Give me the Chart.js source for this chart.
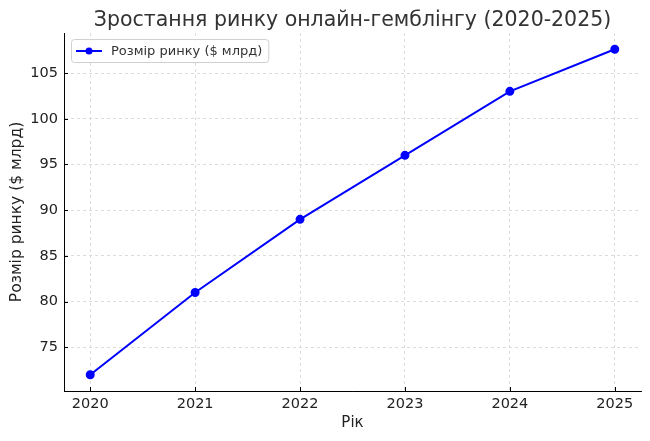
<!DOCTYPE html>
<html>
<head>
<meta charset="utf-8">
<script src="https://cdn.jsdelivr.net/npm/chart.js@4/dist/chart.umd.min.js"></script>
<style>
  html, body { margin: 0; padding: 0; background: #fff; }
  #wrap { width: 650px; height: 441px; }
</style>
</head>
<body>
<div id="wrap"><canvas id="chart"></canvas></div>
<script>
const ROKY = [2020, 2021, 2022, 2023, 2024, 2025];
const ROZMIR = [72, 81, 89, 96, 103, 107.6];
const Y_TICKS = [75, 80, 85, 90, 95, 100, 105];
const TITRE = 'Зростання ринку онлайн-гемблінгу (2020-2025)';
const LABEL_SERIE = 'Розмір ринку ($ млрд)';

const FONT = "'DejaVu Sans', sans-serif";

// petits traits de graduation vers l'interieur (style matplotlib "in")
const ticksDedans = {
    id: 'ticksDedans',
    afterDatasetsDraw(chart) {
        const ctx = chart.ctx;
        const a = chart.chartArea;
        const sx = chart.scales.x, sy = chart.scales.y;
        ctx.save();
        ctx.strokeStyle = '#000';
        ctx.lineWidth = 1;
        ctx.beginPath();
        sx.ticks.forEach(t => {
            const px = Math.round(sx.getPixelForValue(t.value)) + 0.5;
            ctx.moveTo(px, a.bottom);
            ctx.lineTo(px, a.bottom - 4);
        });
        sy.ticks.forEach(t => {
            const py = Math.round(sy.getPixelForValue(t.value)) + 0.5;
            ctx.moveTo(a.left, py);
            ctx.lineTo(a.left + 4, py);
        });
        ctx.stroke();
        ctx.restore();
    }
};

// legende encadree comme matplotlib, dessinee a la main
const legendeBox = {
    id: 'legendeBox',
    afterDraw(chart) {
        const ctx = chart.ctx;
        const area = chart.chartArea;
        const ds = chart.data.datasets[0];
        ctx.save();
        ctx.font = '13px ' + FONT;
        const w = ctx.measureText(ds.label).width + 46;
        const x = area.left + 7, y = area.top + 6, h = 23;
        ctx.fillStyle = 'rgba(255,255,255,0.8)';
        ctx.strokeStyle = '#d0d0d0';
        ctx.lineWidth = 1;
        ctx.beginPath();
        ctx.roundRect(x + 0.5, y + 0.5, w, h, 3);
        ctx.fill();
        ctx.stroke();
        ctx.strokeStyle = ds.borderColor;
        ctx.lineWidth = 2;
        ctx.beginPath();
        ctx.moveTo(x + 5, y + h / 2 + 0.5);
        ctx.lineTo(x + 31, y + h / 2 + 0.5);
        ctx.stroke();
        ctx.fillStyle = ds.pointBackgroundColor;
        ctx.beginPath();
        ctx.arc(x + 18, y + h / 2 + 0.5, 3.5, 0, Math.PI * 2);
        ctx.fill();
        ctx.fillStyle = '#333';
        ctx.textBaseline = 'middle';
        ctx.fillText(ds.label, x + 40, y + h / 2 + 1);
        ctx.restore();
    }
};

const grille = {
    color: '#d4d4d4',
    lineWidth: 0.8,
    drawTicks: false
};

new Chart(document.getElementById('chart'), {
    type: 'line',
    data: {
        datasets: [{
            label: LABEL_SERIE,
            data: ROKY.map((r, i) => ({ x: r, y: ROZMIR[i] })),
            borderColor: '#0000ff',
            backgroundColor: '#0000ff',
            pointBackgroundColor: '#0000ff',
            pointBorderColor: '#0000ff',
            borderWidth: 2,
            pointRadius: 3.5,
            tension: 0
        }]
    },
    options: {
        responsive: true,
        maintainAspectRatio: false,
        animation: false,
        layout: { padding: { left: 0, right: 9, top: 0, bottom: 0 } },
        scales: {
            x: {
                type: 'linear',
                min: 2019.75,
                max: 2025.25,
                afterBuildTicks: s => { s.ticks = ROKY.map(v => ({ value: v })); },
                afterFit: s => { s.height = 50; },
                ticks: {
                    color: '#222',
                    font: { family: FONT, size: 14.5 },
                    padding: 5,
                    callback: v => String(v)
                },
                grid: grille,
                border: { display: true, color: '#000', width: 1, dash: [3, 3] },
                title: {
                    display: true,
                    text: 'Рік',
                    color: '#222',
                    font: { family: FONT, size: 15 },
                    padding: { top: 0, bottom: 9 }
                }
            },
            y: {
                min: 70.22,
                max: 109.38,
                afterBuildTicks: s => { s.ticks = Y_TICKS.map(v => ({ value: v })); },
                afterFit: s => { s.width = 64; },
                ticks: {
                    color: '#222',
                    font: { family: FONT, size: 14.5 },
                    padding: 6
                },
                grid: grille,
                border: { display: true, color: '#000', width: 1, dash: [3, 3] },
                title: {
                    display: true,
                    text: LABEL_SERIE,
                    color: '#222',
                    font: { family: FONT, size: 15.5 },
                    padding: { top: 8, bottom: 0 }
                }
            }
        },
        plugins: {
            legend: { display: false },
            tooltip: { enabled: false },
            title: {
                display: true,
                text: TITRE,
                fullSize: false,
                color: '#333',
                font: { family: FONT, size: 20.5, weight: 'normal' },
                padding: { top: 8, bottom: 0.4 }
            }
        }
    },
    plugins: [ticksDedans, legendeBox]
});
</script>
</body>
</html>
